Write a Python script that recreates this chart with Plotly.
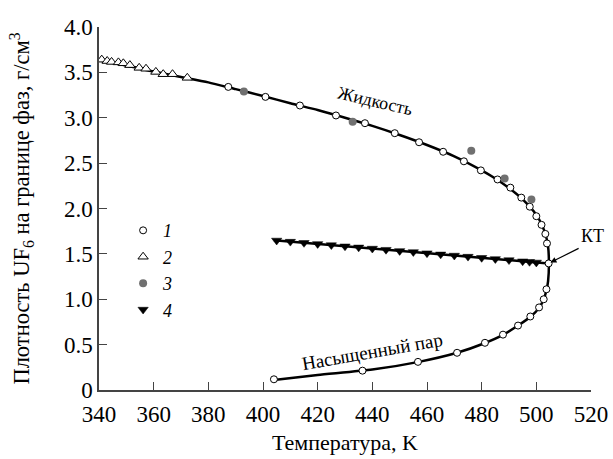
import plotly.graph_objects as go

# Series 1: circles (liquid branch)
T1_liq = [387.3, 400.9, 413.5, 426.7, 437.3, 448.2, 457.1, 465.9, 473.5, 479.7, 485.8, 490.5, 494.5, 497.6, 500.0, 501.9, 503.3, 503.9]
R1_liq = [3.34, 3.23, 3.135, 3.025, 2.94, 2.83, 2.73, 2.625, 2.52, 2.42, 2.32, 2.23, 2.12, 2.02, 1.915, 1.82, 1.72, 1.615]
# Series 1: circles (vapor branch, incl. critical point)
T1_vap = [504.5, 503.7, 502.7, 501.0, 497.8, 493.3, 487.8, 481.2, 471.0, 456.7, 436.4, 404.0]
R1_vap = [1.395, 1.11, 1.00, 0.91, 0.81, 0.71, 0.61, 0.52, 0.41, 0.31, 0.213, 0.118]
# Series 2: triangles
T2 = [341.0, 343.0, 344.6, 347.1, 348.9, 351.3, 354.7, 357.2, 360.8, 363.5, 366.9, 372.3]
R2 = [3.64, 3.625, 3.615, 3.61, 3.60, 3.58, 3.55, 3.54, 3.505, 3.48, 3.48, 3.44]
# Series 3: gray filled circles
T3 = [393.0, 432.8, 476.2, 488.4, 498.2]
R3 = [3.29, 2.955, 2.635, 2.33, 2.10]
# Series 4: rectilinear diameter (down triangles)
T4 = [405, 410, 415, 420, 425, 430, 435, 440, 445, 450, 455, 460, 465, 470, 475, 480, 485, 490, 495, 497.5, 500]
R4 = [1.648, 1.635, 1.622, 1.610, 1.597, 1.584, 1.572, 1.559, 1.546, 1.533, 1.521, 1.508, 1.495, 1.482, 1.470, 1.457, 1.444, 1.432, 1.419, 1.413, 1.406]
T4_line = [404.0, 504.5]
R4_line = [1.650, 1.395]
# Fitted coexistence curve
T_curve = [340, 350, 360, 370, 380, 390, 400, 410, 420, 430, 440, 450, 460, 470, 480, 485, 490, 495, 500, 502, 503.5, 504.3, 504.6,
           504.3, 503.7, 502.7, 501.0, 498.0, 493.3, 488.0, 481.0, 471.0, 457.0, 440.0, 420.0, 404.0]
R_curve = [3.63, 3.575, 3.51, 3.45, 3.39, 3.315, 3.24, 3.16, 3.085, 3.0, 2.91, 2.81, 2.70, 2.575, 2.42, 2.33, 2.225, 2.10, 1.93, 1.82, 1.70, 1.58, 1.40,
           1.20, 1.10, 1.00, 0.905, 0.81, 0.71, 0.61, 0.515, 0.41, 0.31, 0.225, 0.165, 0.11]

x_ticks = [340, 360, 380, 400, 420, 440, 460, 480, 500, 520]
y_ticks = [0, 0.5, 1.0, 1.5, 2.0, 2.5, 3.0, 3.5, 4.0]
y_ticktext = ["0", "0.5", "1.0", "1.5", "2.0", "2.5", "3.0", "3.5", "4.0"]

FONT = "Liberation Serif, Times New Roman, serif"

fig = go.Figure()
fig.add_trace(go.Scatter(x=T_curve, y=R_curve, mode="lines", line=dict(color="black", width=2.5, shape="spline", smoothing=0.6),
                         showlegend=False, hoverinfo="skip"))
fig.add_trace(go.Scatter(x=T4_line, y=R4_line, mode="lines", line=dict(color="black", width=2.5),
                         showlegend=False, hoverinfo="skip"))
fig.add_trace(go.Scatter(x=T1_liq + T1_vap, y=R1_liq + R1_vap, mode="markers", name="<i>1</i>",
                         marker=dict(symbol="circle", size=7, color="white", line=dict(color="black", width=1))))
fig.add_trace(go.Scatter(x=T2, y=R2, mode="markers", name="<i>2</i>",
                         marker=dict(symbol="triangle-up", size=9, color="white", line=dict(color="black", width=1))))
fig.add_trace(go.Scatter(x=T3, y=R3, mode="markers", name="<i>3</i>",
                         marker=dict(symbol="circle", size=8, color="#707070", line=dict(color="#707070", width=0))))
fig.add_trace(go.Scatter(x=T4, y=R4, mode="markers", name="<i>4</i>",
                         marker=dict(symbol="triangle-down", size=9, color="black", line=dict(color="black", width=0.5))))

fig.add_annotation(x=441, y=3.18, text="Жидкость", showarrow=False, textangle=13,
                   font=dict(family=FONT, size=18, color="black"))
fig.add_annotation(x=440, y=0.42, text="Насыщенный пар", showarrow=False, textangle=-10,
                   font=dict(family=FONT, size=19, color="black"))
fig.add_annotation(x=504.5, y=1.395, ax=30, ay=-15, text="КТ", showarrow=True, arrowhead=2, arrowsize=1,
                   arrowwidth=1.2, arrowcolor="black", xanchor="left", yanchor="bottom",
                   font=dict(family=FONT, size=18, color="black"), standoff=2)

axis_common = dict(showline=True, linecolor="#444", linewidth=1.5, ticks="inside", ticklen=8,
                   tickcolor="#444", tickwidth=1.2, showgrid=False, zeroline=False, automargin=False,
                   tickfont=dict(family=FONT, size=23, color="black"))
fig.update_xaxes(range=[340, 520], tickvals=x_ticks, ticklabelstandoff=3, **axis_common,
                 title=dict(text="Температура, K", font=dict(family=FONT, size=22, color="black"), standoff=8))
fig.update_yaxes(range=[0, 4.0], tickvals=y_ticks, ticktext=y_ticktext, **axis_common,
                 title=dict(text="Плотность UF<sub>6</sub> на границе фаз, г/см<sup>3</sup>",
                            font=dict(family=FONT, size=22.5, color="black"), standoff=28))
fig.update_layout(width=613, height=459, margin=dict(l=99, r=22, t=27, b=69, autoexpand=False),
                  plot_bgcolor="white", paper_bgcolor="white",
                  legend=dict(x=0.049, y=0.49, xanchor="left", yanchor="top", bgcolor="rgba(0,0,0,0)",
                              font=dict(family=FONT, size=18, color="black"), itemwidth=30, tracegroupgap=0))
fig.write_html("out.html")
